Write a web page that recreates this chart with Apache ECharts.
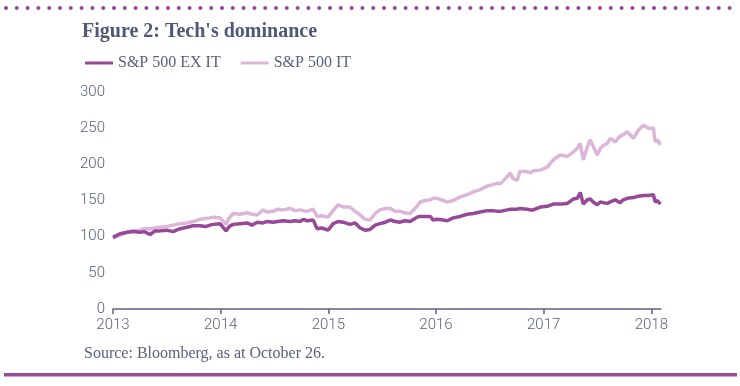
<!DOCTYPE html>
<html>
<head>
<meta charset="utf-8">
<script src="https://cdn.jsdelivr.net/npm/echarts@6/dist/echarts.min.js"></script>
<style>html,body{margin:0;padding:0;background:#fff}#c{width:740px;height:386px}</style>
</head>
<body>
<div id="c"></div>
<script>
// Decimal-year dates shared by both series
var dates = [2013.00,2013.065,2013.13,2013.186,2013.25,2013.29,2013.344,2013.39,2013.437,2013.50,2013.558,2013.623,2013.688,2013.743,2013.809,2013.86,2013.90,2013.929,2013.994,2014.01,2014.05,2014.08,2014.115,2014.18,2014.245,2014.29,2014.34,2014.394,2014.43,2014.487,2014.53,2014.58,2014.645,2014.69,2014.738,2014.766,2014.803,2014.859,2014.877,2014.896,2014.94,2014.998,2015.045,2015.09,2015.137,2015.20,2015.25,2015.296,2015.34,2015.388,2015.435,2015.48,2015.53,2015.574,2015.62,2015.667,2015.71,2015.76,2015.825,2015.853,2015.90,2015.946,2015.974,2016.011,2016.067,2016.104,2016.16,2016.225,2016.29,2016.346,2016.41,2016.476,2016.53,2016.569,2016.597,2016.662,2016.69,2016.717,2016.755,2016.78,2016.848,2016.875,2016.903,2016.968,2017.033,2017.089,2017.154,2017.22,2017.275,2017.312,2017.34,2017.368,2017.405,2017.433,2017.46,2017.498,2017.526,2017.554,2017.591,2017.619,2017.665,2017.71,2017.74,2017.777,2017.833,2017.88,2017.926,2017.972,2017.99,2018.019,2018.037,2018.056,2018.084];
var exIT = [99,104,106,107,106,107,103,108,108,109,107,111,113,115,115,114,116,117,118,117,108,114,117,118,119,116,120,119,121,120,121,122,121,122,121,124,122,123,122,111,112,109,118,121,120,117,119,112,109,110,116,118,120,123,121,120,122,121,127,128,128,128,123,124,123,122,126,128,131,132,134,136,136,135,135,137,138,138,138,139,138,137,137,141,142,145,145,146,152,153,161,145,151,152,148,144,148,147,146,148,151,147,151,153,154,156,157,157,158,158,148,150,145];
var it = [98,102,106,108,109,111,111,112,113,114,116,118,119,121,124,125,126,127,126,124,117,126,132,131,133,131,130,137,134,135,138,137,139,136,137,136,135,138,139,128,129,127,136,144,141,141,135,130,124,123,132,137,139,139,135,135,133,132,142,148,150,151,153,153,150,148,150,155,158,162,165,170,172,174,173,183,188,180,178,190,190,188,191,192,196,206,213,211,217,222,229,206,224,234,225,213,222,226,229,236,231,239,241,245,236,247,254,250,252,250,231,234,227];
var yearTicks = [2013,2014,2015,2016,2017,2018];
var seriesNames = ['S&P 500 EX IT','S&P 500 IT'];

function pairs(vals){ return vals.map(function(v,i){ return [dates[i], v]; }); }

var DARK = '#974898', LIGHT = '#dcb6d9', TXT = '#596080', AX = '#5b6280';
var LBL = {color:TXT, fontFamily:'Roboto', fontWeight:300, fontSize:15};
var chart = echarts.init(document.getElementById('c'), null, {renderer:'canvas'});
chart.setOption({
  animation:false,
  grid:{left:113, right:79, top:92, bottom:77, containLabel:false},
  legend:{
    data:seriesNames, left:85, top:55, padding:0, icon:'rect', itemWidth:28, itemHeight:3, itemGap:20,
    textStyle:{fontFamily:'Liberation Serif', fontSize:16, color:TXT}
  },
  xAxis:{
    type:'value', min:2013, max:2018.09,
    axisLine:{show:true, lineStyle:{color:AX, width:1.5}},
    axisTick:{show:true, length:5, customValues:yearTicks, lineStyle:{color:AX, width:1.5}},
    axisLabel:Object.assign({customValues:yearTicks, margin:9, formatter:function(v){return String(Math.round(v));}}, LBL),
    splitLine:{show:false}
  },
  yAxis:{
    type:'value', min:0, max:300, interval:50,
    axisLine:{show:false}, axisTick:{show:false}, splitLine:{show:false},
    axisLabel:Object.assign({margin:8}, LBL)
  },
  series:[
    {name:seriesNames[0], type:'line', data:pairs(exIT), showSymbol:false, z:3, color:DARK, lineStyle:{color:DARK, width:3.5}},
    {name:seriesNames[1], type:'line', data:pairs(it), showSymbol:false, z:2, color:LIGHT, lineStyle:{color:LIGHT, width:3.5}}
  ],
  graphic:[
    {type:'line', shape:{x1:6, y1:8, x2:736, y2:8}, style:{stroke:DARK, lineWidth:4, lineCap:'round', lineDash:[0,10.8]}},
    {type:'rect', shape:{x:4, y:373, width:733, height:3.5}, style:{fill:'#9b4d9c'}},
    {type:'text', x:82, y:32, style:{text:"Figure 2: Tech's dominance", font:'bold 20px "Liberation Serif"', fill:'#4f5877', verticalAlign:'middle'}},
    {type:'text', x:84, y:354, style:{text:'Source: Bloomberg, as at October 26.', font:'16px "Liberation Serif"', fill:TXT, verticalAlign:'middle'}}
  ]
});
</script>
</body>
</html>
